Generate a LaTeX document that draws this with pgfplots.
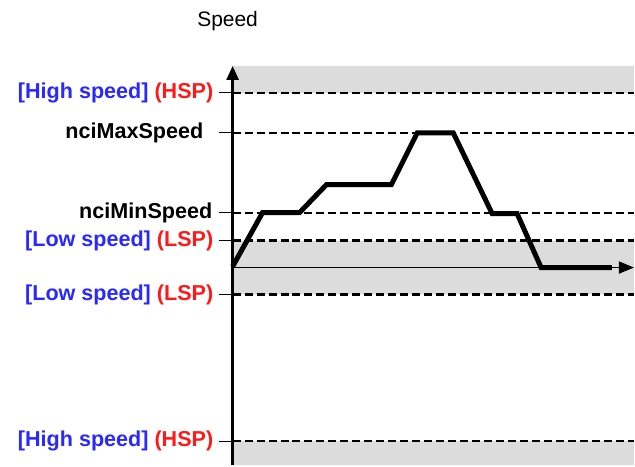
\documentclass[border=0pt]{standalone}
\usepackage{pgfplots}
\pgfplotsset{compat=1.18}
\usepackage{fontspec}
\setmainfont{Liberation Sans}
\usetikzlibrary{arrows.meta}
\definecolor{lblue}{RGB}{40,40,255}
\definecolor{lred}{RGB}{255,25,25}
\definecolor{band}{RGB}{220,220,220}
\newcommand{\hsp}{\textcolor{lblue}{[High speed]} \textcolor{lred}{(HSP)}}
\newcommand{\lsp}{\textcolor{lblue}{[Low speed]} \textcolor{lred}{(LSP)}}
\begin{document}
\begin{tikzpicture}
\begin{axis}[
  x=0.5pt, y=0.5pt,
  xmin=0, xmax=402, ymin=-198, ymax=202,
  axis lines=middle,
  clip=false,
  axis on top=true,
  x axis line style={line width=0.9pt, -{Triangle[length=7.5pt,width=6pt]}},
  y axis line style={line width=1.3pt, -{Triangle[length=7pt,width=6pt]}},
  xtick=\empty,
  ytick={175,135,55,27,-27,-174},
  yticklabels={\hsp, nciMaxSpeed\kern5pt\relax, nciMinSpeed\kern0.5pt\relax, \lsp, \lsp, \hsp},
  tick align=outside,
  major tick length=7pt,
  tick style={line width=0.6pt, black},
  yticklabel style={font=\fontsize{10.8}{12}\selectfont\bfseries, anchor=east, inner sep=0pt, xshift=-2.5pt},
]
% gray bands
\addplot[fill=band, draw=none] coordinates {(0,175) (402,175) (402,202) (0,202) (0,175)};
\addplot[fill=band, draw=none] coordinates {(0,-27) (402,-27) (402,27) (0,27) (0,-27)};
\addplot[fill=band, draw=none] coordinates {(0,-198) (402,-198) (402,-174) (0,-174) (0,-198)};
% dashed level lines
\pgfplotsinvokeforeach{175,135,55,27,-27,-174}{
  \addplot[black, line width=1.1pt, dash pattern=on 4pt off 2pt] coordinates {(0,#1) (402,#1)};
}
% speed profile
\addplot[black, line width=2.5pt, line join=miter] coordinates {
  (0,1) (30,55) (67,55) (94,83) (159,83) (185,135) (221,135) (260,54) (285,54) (309,0) (380,0)
};
\node[font=\fontsize{10.5}{12}\selectfont] at (axis cs:-5,247) {Speed};
\path (axis cs:-233,-198) rectangle (axis cs:402,268);
\end{axis}
\end{tikzpicture}
\end{document}
